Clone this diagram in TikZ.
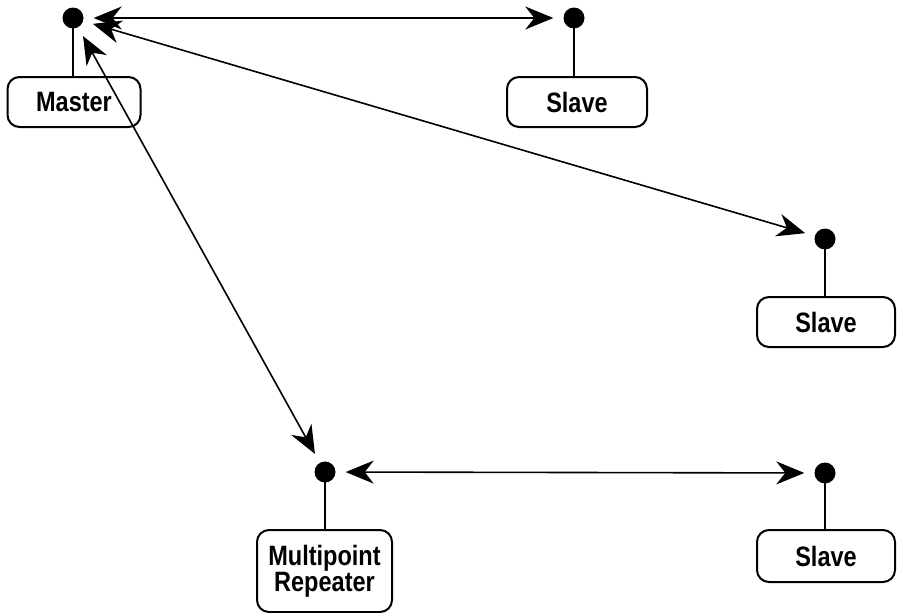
\documentclass[tikz,border=0pt]{standalone}
\usepackage{fontspec}
\newfontfamily\lblfont{Liberation Sans}[FakeStretch=0.84]
\usetikzlibrary{arrows.meta}
\begin{document}
\begin{tikzpicture}[x=1pt,y=-1pt,
  dev/.style={draw, line width=2pt, rounded corners=12pt, inner sep=0pt,
    align=center, font=\lblfont\bfseries\fontsize{28}{26}\selectfont},
  port/.style={circle, fill=black, inner sep=0pt, minimum size=21pt},
  stem/.style={line width=2.4pt},
  link/.style={line width=1.6pt, {Stealth[length=28pt,width=23pt,inset=9pt]}-{Stealth[length=28pt,width=23pt,inset=9pt]}, shorten <=10pt, shorten >=10pt}]
\useasboundingbox (0,0) rectangle (898,613);
% ports
\node[port] (pm) at (73,18) {};
\node[port] (ps1) at (574,18) {};
\node[port] (ps2) at (825,239) {};
\node[port] (pr) at (325,472) {};
\node[port] (ps3) at (825,473) {};
% devices
\node[dev, minimum width=133pt, minimum height=50pt] (master) at (74,102) {Master};
\node[dev, minimum width=140pt, minimum height=50pt] (slave1) at (577,102) {Slave};
\node[dev, minimum width=138pt, minimum height=50pt] (slave2) at (826,322) {Slave};
\node[dev, minimum width=135pt, minimum height=82pt] (rep) at (324.5,571) {Multipoint\\Repeater};
\node[dev, minimum width=138pt, minimum height=52pt] (slave3) at (826,556) {Slave};
% stems
\draw[stem] (pm.center) -- (master.north -| pm);
\draw[stem] (ps1.center) -- (slave1.north -| ps1);
\draw[stem] (ps2.center) -- (slave2.north -| ps2);
\draw[stem] (pr.center) -- (rep.north -| pr);
\draw[stem] (ps3.center) -- (slave3.north -| ps3);
% links
\draw[link] (pm) -- (ps1);
\draw[link] (pm) -- (ps2);
\draw[link] (pm) -- (pr);
\draw[link] (pr) -- (ps3);
\end{tikzpicture}
\end{document}
